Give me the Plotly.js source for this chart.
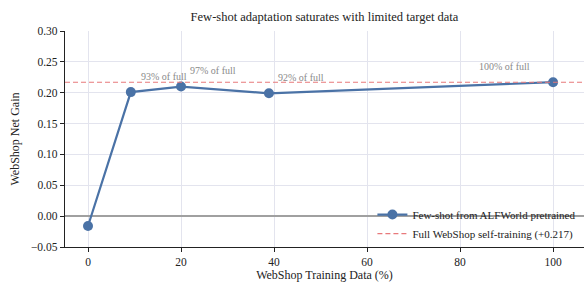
<!DOCTYPE html>
<html><head><meta charset="utf-8">
<script src="https://cdn.plot.ly/plotly-3.0.1.min.js"></script>
<style>html,body{margin:0;padding:0;background:#fff}</style>
</head><body>
<div id="chart" style="width:584px;height:282px"></div>
<script>
const dataPct = [0, 9.2, 20, 38.9, 100];
const netGain = [-0.016, 0.201, 0.210, 0.199, 0.217];
const fullGain = 0.217;
const annotLabels = ["", "93% of full", "97% of full", "92% of full", "100% of full"];
const annotShiftX = [0, 33, 32, 32, -49];
const xRange = [-4.95, 106.65];
const yRange = [-0.05, 0.30];
const xTicks = [0, 20, 40, 60, 80, 100];
const yTicks = [-0.05, 0, 0.05, 0.10, 0.15, 0.20, 0.25, 0.30];

const serif = "Liberation Serif, Times New Roman, serif";

const traces = [
  {x: dataPct, y: netGain, mode: 'lines+markers', name: 'Few-shot from ALFWorld pretrained',
   line: {color: '#4a72a6', width: 2.2}, marker: {size: 10, color: '#4a72a6'}},
  {x: xRange, y: [fullGain, fullGain], mode: 'lines', name: 'Full WebShop self-training (+0.217)',
   line: {color: '#e8797b', width: 1.1, dash: '5px,3px'}, hoverinfo: 'skip'}
];

const annotations = [];
for (let i = 0; i < dataPct.length; i++) {
  if (!annotLabels[i]) continue;
  annotations.push({x: dataPct[i], y: netGain[i], xref: 'x', yref: 'y', text: annotLabels[i],
    showarrow: false, xanchor: 'center', yanchor: 'middle', xshift: annotShiftX[i], yshift: 16,
    font: {family: serif, size: 10, color: '#8a8a8a'}});
}

const layout = {
  width: 584, height: 282,
  margin: {l: 65, r: 0, t: 31, b: 35},
  paper_bgcolor: '#fff', plot_bgcolor: '#fff',
  font: {family: serif, color: '#222'},
  title: {text: 'Few-shot adaptation saturates with limited target data', x: 0.5, xref: 'paper', y: 0.94, yanchor: 'middle',
    font: {family: serif, size: 12.5, color: '#222'}},
  xaxis: {range: xRange, tickvals: xTicks, ticks: 'outside', ticklen: 4, tickcolor: '#222',
    showline: true, linecolor: '#222', linewidth: 1.2, mirror: false,
    showgrid: true, gridcolor: '#e3e4ee', gridwidth: 1, zeroline: false,
    tickfont: {family: serif, size: 11.5, color: '#222'},
    title: {text: 'WebShop Training Data (%)', font: {family: serif, size: 12, color: '#222'}, standoff: 4}},
  yaxis: {range: yRange, tickvals: yTicks, tickformat: '.2f', ticks: 'outside', ticklen: 4, tickcolor: '#222',
    showline: true, linecolor: '#222', linewidth: 1.2, mirror: false,
    showgrid: true, gridcolor: '#e3e4ee', gridwidth: 1,
    zeroline: true, zerolinecolor: '#a0a0a0', zerolinewidth: 1.5,
    tickfont: {family: serif, size: 11.5, color: '#222'},
    title: {text: 'WebShop Net Gain', font: {family: serif, size: 12, color: '#222'}, standoff: 8}},
  legend: {x: 0.995, xanchor: 'right', y: -0.005, yanchor: 'bottom', bgcolor: 'rgba(0,0,0,0)',
    font: {family: serif, size: 11, color: '#222'}, tracegroupgap: 0, itemwidth: 30},
  annotations: annotations,
  showlegend: true
};

Plotly.newPlot('chart', traces, layout, {staticPlot: true, displayModeBar: false});
</script>
</body></html>
